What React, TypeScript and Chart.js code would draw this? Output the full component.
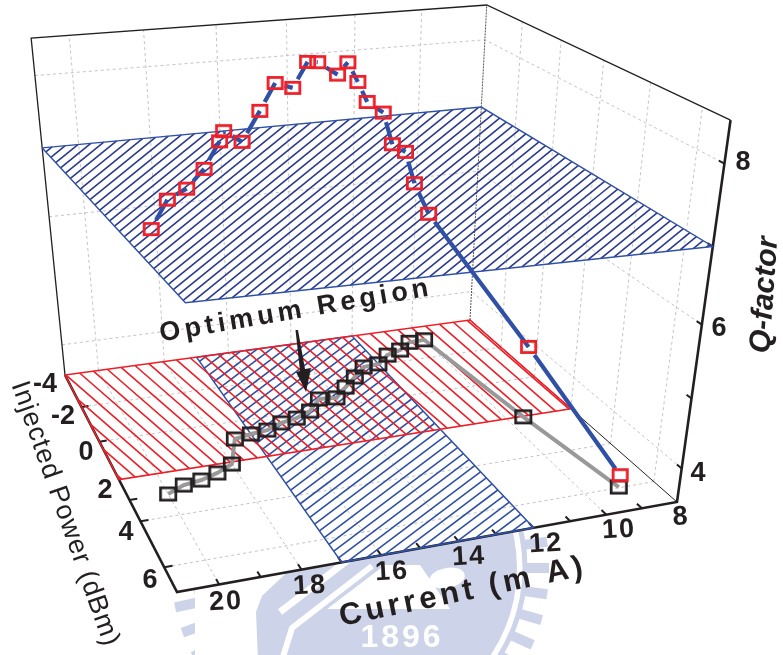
import React, { useEffect, useRef } from "react";
import { Chart, registerables } from "chart.js";

Chart.register(...registerables);

// ---- data ----
const currentMA = [20, 19.5, 19, 18.5, 18, 17.5, 17, 16.5, 16, 15.5, 15, 14.5, 14, 13.5, 13, 12.5, 12, 11.5, 11, 10.5, 10, 9.5, 9];
const injectedPower = [3.01, 2.72, 2.62, 2.41, 2.1, 0.9, 0.77, 0.7, 0.44, 0.31, 0.04, -0.54, -0.46, -0.98, -1.48, -1.99, -2.05, -2.5, -2.7, -3.1, -3.13, 2.03, 5.97];
const qFactor = [7.13, 7.41, 7.5, 7.68, 7.94, 7.85, 7.67, 8.03, 8.32, 8.22, 8.49, 8.39, 8.22, 8.29, 7.94, 7.57, 7.39, 6.84, 6.67, 6.1, 5.59, 4.6, 3.68];

const currentGrid = [10, 12, 14, 16, 18, 20];
const powerGrid = [-2, 0, 2, 4, 6];
const qGrid = [4, 6, 8];
const currentTicks = [9, 10, 11, 12, 13, 14, 15, 16, 17, 18, 19, 20];
const powerTicks = [-2, 0, 3, 4, 6];
const qTicks = [4, 5, 6, 7, 8];

const currentTickLabels = ["8", "10", "12", "14", "16", "18", "20"];
const powerTickLabels = ["-4", "-2", "0", "2", "4", "6"];
const qTickLabels = ["4", "6", "8"];

// Axis limits of the box, and the regions shaded in the figure
const C_MIN = 8, C_MAX = 21, P_MIN = -4, P_MAX = 7, Q_MIN = 3.5, Q_MAX = 8.5;
const redPowerMax = 2;
const blueCurrentRange = [12, 17];
const qThreshold = 7;
const planeCurrent = [21, 8, 8, 20.3];
const planePower = [-4, -4, 7, 6.5];

// ---- layout ----
const W = 783, H = 655;
const currentLabelXY = [[681, 517], [619, 530], [546, 544], [469, 557], [392, 572], [310, 586], [226, 602]];
const powerLabelXY = [[45, 385], [63, 417], [86, 453], [105, 491], [126, 533], [150, 581]];
const qLabelXY = [[698, 474], [719, 329], [743, 163]];

// Perspective projection of the box (current, power, q) on to the page
const H_ = [-32.46598096, 6.26437543, 768.7186363, 2.1144418, 7.31355382, 341.82517403, -0.005978, -0.01936732];
const PERSP = -0.10858124, VX = 328, VY = 2992;

type P = { x: number; y: number };
function project(c: number, p: number, q: number): P {
  const z = (q - Q_MIN) / (Q_MAX - Q_MIN);
  const w = H_[6] * c + H_[7] * p + 1 + PERSP * z;
  return {
    x: (H_[0] * c + H_[1] * p + H_[2] + PERSP * VX * z) / w,
    y: (H_[3] * c + H_[4] * p + H_[5] + PERSP * VY * z) / w,
  };
}
const GAP: P = { x: NaN, y: NaN };

function hatch(poly: P[], angleDeg: number, spacing: number, phase: number): P[] {
  const a = (angleDeg * Math.PI) / 180;
  const dx = Math.cos(a), dy = Math.sin(a);
  const nx = -dy, ny = dx;
  const proj = poly.map((p) => p.x * nx + p.y * ny);
  const lo = Math.min(...proj), hi = Math.max(...proj);
  const out: P[] = [];
  for (let k = Math.ceil((lo - phase) / spacing); k * spacing + phase < hi; k++) {
    const off = k * spacing + phase;
    const hits: P[] = [];
    for (let i = 0; i < poly.length; i++) {
      const s = proj[i] - off, e = proj[(i + 1) % poly.length] - off;
      if (s * e < 0) {
        const t = s / (s - e);
        const A = poly[i], B = poly[(i + 1) % poly.length];
        hits.push({ x: A.x + (B.x - A.x) * t, y: A.y + (B.y - A.y) * t });
      }
    }
    if (hits.length === 2) out.push(hits[0], hits[1], GAP);
  }
  return out;
}

function gappedLine(pts: P[], startGap: number, lastEndGap: number): P[] {
  const out: P[] = [];
  for (let i = 0; i + 1 < pts.length; i++) {
    const A = pts[i], B = pts[i + 1];
    const L = Math.hypot(B.x - A.x, B.y - A.y);
    const s = Math.min(startGap / L, 0.9);
    const e = i + 2 === pts.length ? 1 - lastEndGap / L : 1;
    out.push({ x: A.x + (B.x - A.x) * s, y: A.y + (B.y - A.y) * s }, { x: A.x + (B.x - A.x) * e, y: A.y + (B.y - A.y) * e }, GAP);
  }
  return out;
}

function squareMark(w: number, h: number, color: string, lw: number) {
  const c = document.createElement("canvas");
  c.width = w + 4; c.height = h + 4;
  const x = c.getContext("2d")!;
  x.strokeStyle = color; x.lineWidth = lw;
  x.strokeRect(2 + lw / 2, 2 + lw / 2, w - lw, h - lw);
  return c;
}

const NAVY = "#2b3b90", BLUE = "#2f50a5", RED = "#ed1f28", INK = "#231f20", WM = "#cdd3e8";
const FONT = '"Liberation Sans", Arial, sans-serif';

function label(ctx: CanvasRenderingContext2D, s: string, x: number, y: number, font: string, rot = 0, ls = 0) {
  ctx.save();
  ctx.translate(x, y);
  ctx.rotate((rot * Math.PI) / 180);
  ctx.font = font;
  (ctx as any).letterSpacing = ls + "px";
  ctx.textAlign = "center";
  ctx.textBaseline = "middle";
  ctx.fillStyle = INK;
  ctx.fillText(s, 0, 0);
  ctx.restore();
}

function watermark(ctx: CanvasRenderingContext2D) {
  const cx = 360, cy = 568;
  ctx.save();
  ctx.fillStyle = "#fff";
  ctx.fillRect(0, 0, W, H);
  ctx.fillStyle = WM; ctx.strokeStyle = WM;
  // radial teeth
  for (let deg = 0; deg < 360; deg += 8) {
    const a = (deg * Math.PI) / 180;
    ctx.lineWidth = 10;
    ctx.beginPath();
    ctx.moveTo(cx + 166 * Math.cos(a), cy + 166 * Math.sin(a));
    ctx.lineTo(cx + 189 * Math.cos(a), cy + 189 * Math.sin(a));
    ctx.stroke();
  }
  ctx.lineWidth = 5;
  ctx.beginPath(); ctx.arc(cx, cy, 165, 0, Math.PI * 2); ctx.stroke();
  // inner disc and its white shapes
  ctx.beginPath(); ctx.arc(cx, cy, 157, 0, Math.PI * 2); ctx.fill();
  ctx.fillStyle = "#fff"; ctx.strokeStyle = "#fff";
  ctx.beginPath();
  ctx.moveTo(195, 560); ctx.lineTo(300, 560); ctx.lineTo(262, 596); ctx.lineTo(256, 612); ctx.lineTo(258, 660); ctx.lineTo(195, 660);
  ctx.closePath(); ctx.fill();
  ctx.lineWidth = 7;
  ctx.beginPath(); ctx.moveTo(280, 612); ctx.lineTo(348, 560); ctx.stroke();
  ctx.lineWidth = 6;
  ctx.beginPath(); ctx.moveTo(282, 660); ctx.lineTo(292, 628); ctx.lineTo(372, 566); ctx.stroke();
  ctx.beginPath(); ctx.moveTo(327, 609); ctx.lineTo(450, 609); ctx.lineTo(420, 565); ctx.lineTo(385, 565); ctx.closePath(); ctx.fill();
  ctx.beginPath(); ctx.ellipse(447, 578, 18, 10, -0.2, 0, Math.PI * 2); ctx.fill();
  ctx.fillStyle = WM;
  ctx.fillRect(352, 616, 105, 40);
  ctx.fillStyle = "#fff";
  ctx.font = `bold 32px ${FONT}`;
  (ctx as any).letterSpacing = "3px";
  ctx.textAlign = "center"; ctx.textBaseline = "middle";
  ctx.fillText("1896", 402, 638);
  (ctx as any).letterSpacing = "0px";
  // plot box is opaque
  const box = [project(C_MAX, P_MIN, Q_MIN), project(C_MAX, P_MIN, Q_MAX), project(C_MIN, P_MIN, Q_MAX), project(C_MIN, P_MAX, Q_MAX), project(C_MIN, P_MAX, Q_MIN), project(C_MAX, P_MAX, Q_MIN)];
  ctx.beginPath();
  box.forEach((p, i) => (i ? ctx.lineTo(p.x, p.y) : ctx.moveTo(p.x, p.y)));
  ctx.closePath(); ctx.fill();
  ctx.restore();
}

const figurePlugin = {
  id: "figure",
  beforeDatasetsDraw(chart: any) { watermark(chart.ctx); },
  afterDatasetsDraw(chart: any) {
    const ctx: CanvasRenderingContext2D = chart.ctx;
    const bold = `bold 27px ${FONT}`;
    currentTickLabels.forEach((s, i) => label(ctx, s, currentLabelXY[i][0], currentLabelXY[i][1], bold, -3, 2));
    powerTickLabels.forEach((s, i) => label(ctx, s, powerLabelXY[i][0], powerLabelXY[i][1], bold));
    qTickLabels.forEach((s, i) => label(ctx, s, qLabelXY[i][0], qLabelXY[i][1], bold));
    label(ctx, "Current (m A)", 463, 592, `bold 31px ${FONT}`, -11.7, 4);
    label(ctx, "Q-factor", 765, 295, `italic bold 30px ${FONT}`, -86);
    label(ctx, "Injected Power (dBm)", 65, 514, `27px ${FONT}`, 70.5, 1);
    label(ctx, "Optimum Region", 296, 311, `bold 27px ${FONT}`, -9.7, 4.2);
    // arrow
    ctx.save();
    ctx.fillStyle = INK;
    ctx.beginPath();
    ctx.moveTo(295.5, 330); ctx.lineTo(298, 330); ctx.lineTo(305, 369); ctx.lineTo(311, 368); ctx.lineTo(306, 392);
    ctx.lineTo(296, 372); ctx.lineTo(300, 371);
    ctx.closePath(); ctx.fill();
    ctx.restore();
  },
};

export default function App() {
  const ref = useRef<HTMLCanvasElement>(null);
  useEffect(() => {
    document.body.style.margin = "0";
    const floor = (c: number, p: number) => project(c, p, Q_MIN);
    const reds = currentMA.map((c, i) => project(c, injectedPower[i], qFactor[i]));
    const blacks = currentMA.map((c, i) => floor(c, injectedPower[i]));

    const grid: P[] = [];
    for (const c of currentGrid) {
      grid.push(floor(c, P_MIN), floor(c, P_MAX), GAP);
      grid.push(floor(c, P_MIN), project(c, P_MIN, Q_MAX), GAP);
    }
    for (const p of powerGrid) {
      grid.push(floor(C_MIN, p), floor(C_MAX, p), GAP);
      grid.push(floor(C_MIN, p), project(C_MIN, p, Q_MAX), GAP);
    }
    for (const q of qGrid) {
      grid.push(project(C_MAX, P_MIN, q), project(C_MIN, P_MIN, q), project(C_MIN, P_MAX, q), GAP);
    }

    const ticks: P[] = [];
    for (const c of currentTicks) ticks.push(floor(c, P_MAX), floor(c, P_MAX - 0.22), GAP);
    for (const p of powerTicks) ticks.push(floor(C_MAX, p), floor(C_MAX - 0.2, p), GAP);
    for (const q of qTicks) ticks.push(project(C_MIN, P_MAX, q), project(C_MIN, P_MAX - 0.2, q), GAP);

    const bluePoly = [floor(blueCurrentRange[1], P_MIN), floor(blueCurrentRange[0], P_MIN), floor(blueCurrentRange[0], P_MAX), floor(blueCurrentRange[1], P_MAX)];
    const redPoly = [floor(C_MAX, P_MIN), floor(C_MIN, P_MIN), floor(C_MIN, redPowerMax), floor(C_MAX, redPowerMax)];
    const planePoly = planeCurrent.map((c, i) => project(c, planePower[i], qThreshold));
    const closed = (a: P[]) => [...a, a[0]];

    const line = (data: P[], color: string, width: number, extra: any = {}) => ({
      data, borderColor: color, borderWidth: width, pointRadius: 0, showLine: true, fill: false, tension: 0, spanGaps: false, clip: false, ...extra,
    });

    // listed bottom layer first
    const layers: any[] = [
      line(grid, "#c4c4c4", 1, { borderDash: [3, 3] }),
      line([floor(C_MIN, P_MIN), project(C_MIN, P_MIN, Q_MAX)], "#555", 1, { borderDash: [2, 1] }),
      line([floor(C_MAX, P_MIN), project(C_MAX, P_MIN, Q_MAX), project(C_MIN, P_MIN, Q_MAX), project(C_MIN, P_MAX, Q_MAX)], INK, 1.3),
      line([floor(C_MIN, P_MIN), floor(C_MIN, P_MAX)], INK, 1),
      line([floor(C_MAX, P_MIN), floor(C_MAX, P_MAX), floor(C_MIN, P_MAX), project(C_MIN, P_MAX, Q_MAX)], INK, 2.6),
      line(ticks, INK, 2),
      line(hatch(bluePoly, -37, 8.3, 2), BLUE, 1.6),
      line(closed(bluePoly), BLUE, 1.5),
      line(hatch(redPoly, 41, 10.5, 8.8), RED, 1.6),
      line(closed(redPoly), RED, 1.6),
      line(blacks, "#999999", 4),
      { ...line(blacks, INK, 0), showLine: false, pointStyle: squareMark(18, 15, INK, 2.7), pointRadius: 8 },
      line(hatch(planePoly, -39, 7.2, 3), NAVY, 1.6),
      line(closed(planePoly), BLUE, 1.4),
      line(gappedLine(reds, 10, 8), BLUE, 4.2),
      { ...line(reds, RED, 0), showLine: false, pointStyle: squareMark(17, 14, RED, 2.8), pointRadius: 8 },
    ];
    const datasets = layers.map((d, i) => ({ ...d, order: layers.length - i }));

    const chart = new Chart(ref.current!, {
      type: "scatter",
      data: { datasets },
      options: {
        animation: false,
        responsive: false,
        layout: { padding: 0, autoPadding: false },
        plugins: { legend: { display: false }, tooltip: { enabled: false } },
        scales: {
          x: { type: "linear", min: 0, max: W, display: false },
          y: { type: "linear", min: 0, max: H, reverse: true, display: false },
        },
      },
      plugins: [figurePlugin],
    } as any);
    return () => chart.destroy();
  }, []);
  return (
    <div style={{ width: W, height: H }}>
      <canvas ref={ref} width={W} height={H} style={{ display: "block" }} />
    </div>
  );
}
